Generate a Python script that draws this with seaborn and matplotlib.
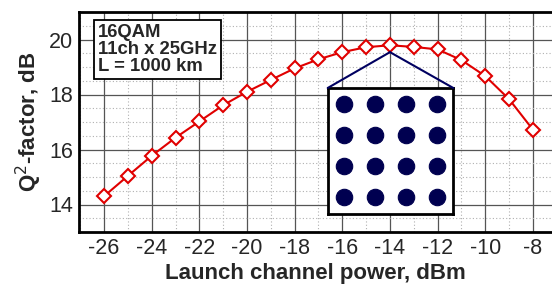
import numpy as np
import pandas as pd
import matplotlib
matplotlib.use("Agg")
import matplotlib.pyplot as plt
import seaborn as sns
from matplotlib.patches import ConnectionPatch
from matplotlib.ticker import MultipleLocator

power_dbm = [-26, -25, -24, -23, -22, -21, -20, -19, -18, -17, -16, -15, -14, -13, -12, -11, -10, -9, -8]
q2_db = [14.30, 15.04, 15.77, 16.43, 17.02, 17.61, 18.10, 18.53, 18.95, 19.28, 19.54, 19.72, 19.79,
         19.73, 19.64, 19.25, 18.67, 17.83, 16.72]
const_i = [-3, -1, 1, 3] * 4
const_q = [3] * 4 + [1] * 4 + [-1] * 4 + [-3] * 4
info_lines = ["16QAM", "11ch x 25GHz", "L = 1000 km"]
xticks = [-26, -24, -22, -20, -18, -16, -14, -12, -10, -8]
yticks = [14, 16, 18, 20]

sns.set_style("white")
plt.rcParams['font.family'] = ['Liberation Sans', 'DejaVu Sans']

fig = plt.figure(figsize=(5.52, 2.87), dpi=100)
ax = fig.add_axes([79/552, 1-232/287, (552-79)/552, 220/287])

df = pd.DataFrame({"p": power_dbm, "q": q2_db})
sns.lineplot(data=df, x="p", y="q", ax=ax, color="#e00000", lw=1.5, marker="D",
             markersize=7.5, markerfacecolor="white", markeredgecolor="#e00000",
             markeredgewidth=1.5, zorder=5)

ax.set_xlim(-27.05, -7.2)
ax.set_ylim(13, 21)
ax.set_xticks(xticks)
ax.set_yticks(yticks)
ax.set_xticklabels([str(t) for t in xticks])
ax.xaxis.set_minor_locator(MultipleLocator(1))
ax.yaxis.set_minor_locator(MultipleLocator(0.5))
ax.grid(which="major", color="#555555", lw=0.9, ls="-")
ax.grid(which="minor", color="#b0b0b0", lw=0.8, ls=(0, (1, 2)))
ax.set_axisbelow(True)
ax.tick_params(which="major", direction="in", length=7, width=1.5, labelsize=15.5,
               top=False, right=False, pad=4)
ax.tick_params(which="minor", direction="in", length=3.5, width=1.0, top=False, right=False)
for s in ["left", "bottom", "top"]:
    ax.spines[s].set_linewidth(2)
    ax.spines[s].set_color("black")
ax.spines["right"].set_visible(False)

ax.set_xlabel("Launch channel power, dBm", fontsize=16, fontweight="bold", labelpad=3)
ax.set_ylabel("Q$^2$-factor, dB", fontsize=16, fontweight="bold", labelpad=4)

ax.text(0.04, 0.946, "\n".join(info_lines), transform=ax.transAxes, ha="left", va="top",
        fontsize=13.3, fontweight="bold", linespacing=1.0,
        bbox=dict(boxstyle="square,pad=0.2", fc="white", ec="black", lw=1.3), zorder=10)

# inset constellation
iax = fig.add_axes([327.7/552, 1-214/287, 125.6/552, 126/287])
sns.scatterplot(x=const_i, y=const_q, ax=iax, color="#000050", s=140, edgecolor="#000050",
                linewidth=0.8, legend=False)
iax.set_xlim(-4.05, 4.05)
iax.set_ylim(-4.1, 4.05)
iax.set_xticks([])
iax.set_yticks([])
iax.set_xlabel("")
iax.set_ylabel("")
iax.set_facecolor("white")
for s in iax.spines.values():
    s.set_linewidth(2)
    s.set_color("black")

peak_idx = int(np.argmax(q2_db))
peak = (power_dbm[peak_idx], q2_db[peak_idx] - 0.25)
for corner in [(0, 1), (1, 1)]:
    con = ConnectionPatch(xyA=peak, coordsA=ax.transData, xyB=corner, coordsB=iax.transAxes,
                          color="#000060", lw=1.5, zorder=3)
    fig.add_artist(con)

fig.savefig("out.png", dpi=100)
